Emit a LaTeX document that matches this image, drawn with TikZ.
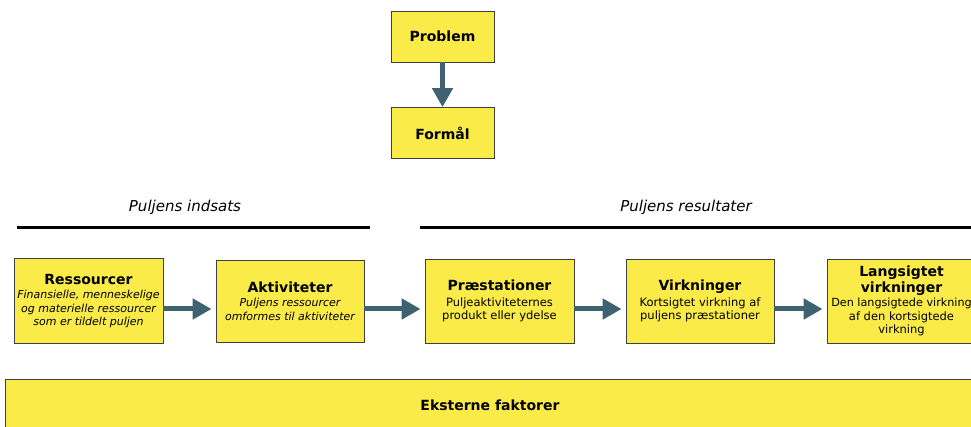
\documentclass[tikz,border=0pt]{standalone}
\usepackage{fontspec}
\setmainfont{DejaVu Sans}
\usetikzlibrary{arrows.meta}

\definecolor{boxyellow}{RGB}{250,235,72}
\definecolor{flowteal}{RGB}{62,98,112}

\newcommand{\boxtitle}{\fontsize{14}{16}\selectfont\bfseries}
\newcommand{\boxnote}{\fontsize{11}{13.5}\selectfont\itshape}

\tikzset{
  stepbox/.style={draw=black!75, fill=boxyellow, line width=0.8pt,
    minimum width=149pt, minimum height=84pt, inner sep=0pt, align=center,
    font=\fontsize{11.5}{13.5}\selectfont},
  topbox/.style={stepbox, minimum width=103pt, minimum height=51pt,
    font=\fontsize{14}{16}\selectfont\bfseries},
  flow/.style={draw=flowteal, line width=5pt,
    -{Triangle[length=19pt,width=20pt]}},
  grouplabel/.style={font=\fontsize{15}{17}\selectfont\itshape},
  groupline/.style={line width=3pt}
}

\begin{document}
\begin{tikzpicture}[x=1pt,y=-1pt]
  \useasboundingbox (0,0) rectangle (971,427);
  \clip (0,0) rectangle (971,427);

  % problem and purpose
  \node[topbox] (problem) at (442.5,36.5) {Problem};
  \node[topbox] (formaal) at (442.5,133) {Formål};
  \draw[flow] (problem) -- (formaal);

  % input and results headings
  \node[grouplabel] (indsats) at (185,207) {Puljens indsats};
  \node[grouplabel] (resultater) at (686,207) {Puljens resultater};
  \draw[groupline] (17,228) -- (370,228);
  \draw[groupline] (420,228) -- (971,228);

  % the chain
  \node[stepbox, minimum height=85pt] (ressourcer) at (88.5,301)
    {{\boxtitle Ressourcer}\\[1pt]
     {\boxnote Finansielle, menneskelige}\\
     {\boxnote og materielle ressourcer}\\
     {\boxnote som er tildelt puljen}};
  \node[stepbox, minimum width=148pt, minimum height=82pt] (aktiviteter) at (290,301)
    {{\boxtitle Aktiviteter}\\[1pt]
     {\boxnote Puljens ressourcer}\\
     {\boxnote omformes til aktiviteter}};
  \node[stepbox] (praestationer) at (499.5,301)
    {{\boxtitle Præstationer}\\[2pt]
     Puljeaktiviteternes\\
     produkt eller ydelse};
  \node[stepbox, minimum width=148pt] (virkninger) at (700,301)
    {{\boxtitle Virkninger}\\[2pt]
     Kortsigtet virkning af\\
     puljens præstationer};
  \node[stepbox] (langsigtet) at (901.5,301)
    {{\boxtitle Langsigtet}\\[1pt]
     {\boxtitle virkninger}\\[1pt]
     {\fontsize{11.2}{13.5}\selectfont Den langsigtede virkning}\\
     af den kortsigtede\\
     virkning};

  \foreach \a/\b in {ressourcer/aktiviteter, aktiviteter/praestationer,
                     praestationer/virkninger, virkninger/langsigtet}
    \draw[flow, shorten >=4pt] ([yshift=-8pt]\a.east) -- ([yshift=-8pt]\b.west);

  % external factors
  \node[stepbox, minimum width=970pt, minimum height=52pt,
        font=\fontsize{14}{16}\selectfont\bfseries] (eksterne) at (490,405)
    {Eksterne faktorer};
\end{tikzpicture}
\end{document}
